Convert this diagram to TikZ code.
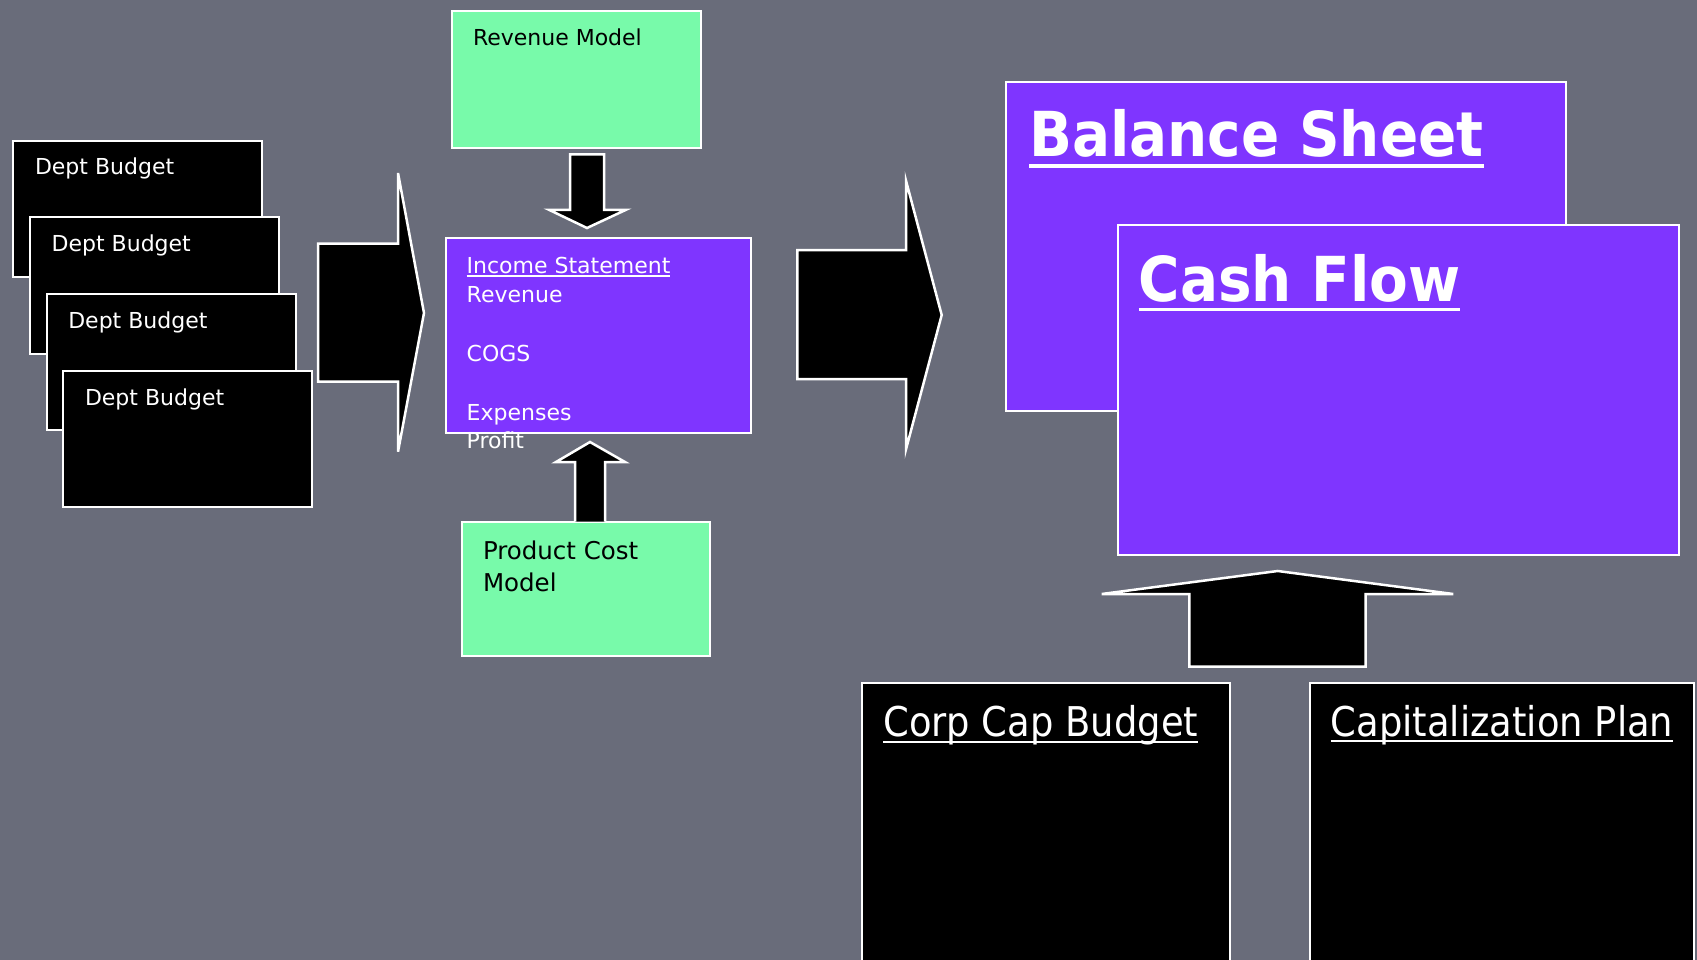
\documentclass[tikz,border=0pt]{standalone}
\usepackage{fontspec}
\setmainfont{DejaVu Sans}
\newfontfamily\condfont[FakeStretch=0.9]{DejaVu Sans}
\newfontfamily\headfont[FakeStretch=0.91]{DejaVu Sans Bold}
\definecolor{bg}{HTML}{696C7A}
\definecolor{purp}{HTML}{7F35FF}
\definecolor{mint}{HTML}{78FAAA}
\begin{document}
\begin{tikzpicture}[x=1pt,y=-1pt,
  panel/.style={draw=white, line width=2pt, inner sep=0pt, outer sep=0pt, anchor=north west},
  blockarrow/.style={fill=black, draw=white, line width=2.5pt, line join=miter},
  txt/.style={inner sep=0pt, outer sep=0pt, anchor=base west, font=\fontsize{22}{26}\selectfont},
  wtxt/.style={txt, text=white},
  btxt/.style={txt, text=black},
  pctxt/.style={txt, text=black, font=\fontsize{24.5}{29}\selectfont},
  headtxt/.style={inner sep=0pt, outer sep=0pt, anchor=base west, text=white, font=\headfont\fontsize{62}{70}\selectfont},
  captxt/.style={inner sep=0pt, outer sep=0pt, anchor=base west, text=white, font=\condfont\fontsize{41}{48}\selectfont},
  uline/.style={white, line width=#1},
  uline/.default=2pt]
\useasboundingbox (0,0) rectangle (1697,960);
\fill[bg] (0,0) rectangle (1697,960);

% Dept budgets
\node[panel, fill=black, minimum width=249pt, minimum height=136pt] (d1) at (13,141) {};
\node[wtxt] (d1t) at (35,175) {Dept Budget};
\node[panel, fill=black, minimum width=249pt, minimum height=136pt] (d2) at (30,217.5) {};
\node[wtxt] (d2t) at (51.7,251.5) {Dept Budget};
\node[panel, fill=black, minimum width=249pt, minimum height=136pt] (d3) at (46.5,294) {};
\node[wtxt] (d3t) at (68.3,328) {Dept Budget};
\node[panel, fill=black, minimum width=249pt, minimum height=136pt] (d4) at (63,370.5) {};
\node[wtxt] (d4t) at (85,405) {Dept Budget};

% left block arrow
\draw[blockarrow] (318,243.5) -- (398,243.5) -- (398,173) -- (424,313) -- (398,451.7) -- (398,381.7) -- (318,381.7) -- cycle;

% Revenue model
\node[panel, fill=mint, minimum width=249pt, minimum height=137pt] (rev) at (451.7,10.7) {};
\node[btxt] (revt) at (473,46) {Revenue Model};

% down arrow
\draw[blockarrow] (570,154.5) -- (604,154.5) -- (604,209.8) -- (626,209.8) -- (587,228) -- (549,209.8) -- (570,209.8) -- cycle;

% Income statement
\node[panel, fill=purp, minimum width=305pt, minimum height=194.5pt] (inc) at (445.7,238) {};
\node[wtxt] (inct) at (466.7,273.3) {Income Statement};
\draw[uline=1.5pt] ([yshift=-2.5pt]inct.base west) -- ([yshift=-2.5pt]inct.base east);
\node[wtxt] (incr) at (466.7,302.7) {Revenue};
\node[wtxt] (incc) at (466.7,361.7) {COGS};
\node[wtxt] (ince) at (466.7,420.7) {Expenses};
\node[wtxt] (incp) at (466.7,448) {Profit};

% Product cost model
\node[panel, fill=mint, minimum width=248pt, minimum height=133.5pt] (pcm) at (462,522) {};
\node[pctxt] (pcm1) at (483,559) {Product Cost};
\node[pctxt] (pcm2) at (483,591) {Model};

% up arrow small
\draw[blockarrow] (575,521.5) -- (575,462) -- (556,462) -- (590,442) -- (625,462) -- (605,462) -- (605,521.5);

% right block arrow
\draw[blockarrow] (797.3,250) -- (906,250) -- (906,180.7) -- (941.7,315) -- (906,449.3) -- (906,379) -- (797.3,379) -- cycle;

% Balance sheet and cash flow
\node[panel, fill=purp, minimum width=560.4pt, minimum height=329pt] (bs) at (1005.8,81.7) {};
\node[headtxt] (bst) at (1029.3,156.7) {Balance Sheet};
\draw[uline=3.5pt] ([yshift=-9.3pt]bst.base west) -- ([yshift=-9.3pt]bst.base east);
\node[panel, fill=purp, minimum width=561pt, minimum height=329.7pt] (cf) at (1117.6,225.3) {};
\node[headtxt] (cft) at (1138.8,301) {Cash Flow};
\draw[uline=3.5pt] ([yshift=-8.5pt]cft.base west) -- ([yshift=-8.5pt]cft.base east);

% big up arrow
\draw[blockarrow] (1189.3,666.7) -- (1189.3,594) -- (1101.7,594) -- (1277.7,571) -- (1453.3,594) -- (1365.7,594) -- (1365.7,666.7) -- cycle;

% Capital boxes
\node[panel, fill=black, minimum width=368pt, minimum height=300pt] (ccb) at (862,682.7) {};
\node[captxt] (ccbt) at (883.3,736.7) {Corp Cap Budget};
\draw[uline=2pt] ([yshift=-5pt]ccbt.base west) -- ([yshift=-5pt]ccbt.base east);
\node[panel, fill=black, minimum width=383.6pt, minimum height=300pt] (cpp) at (1310.3,682.7) {};
\node[captxt] (cppt) at (1330.7,736) {Capitalization Plan};
\draw[uline=2pt] ([yshift=-5pt]cppt.base west) -- ([yshift=-5pt]cppt.base east);
\end{tikzpicture}
\end{document}
